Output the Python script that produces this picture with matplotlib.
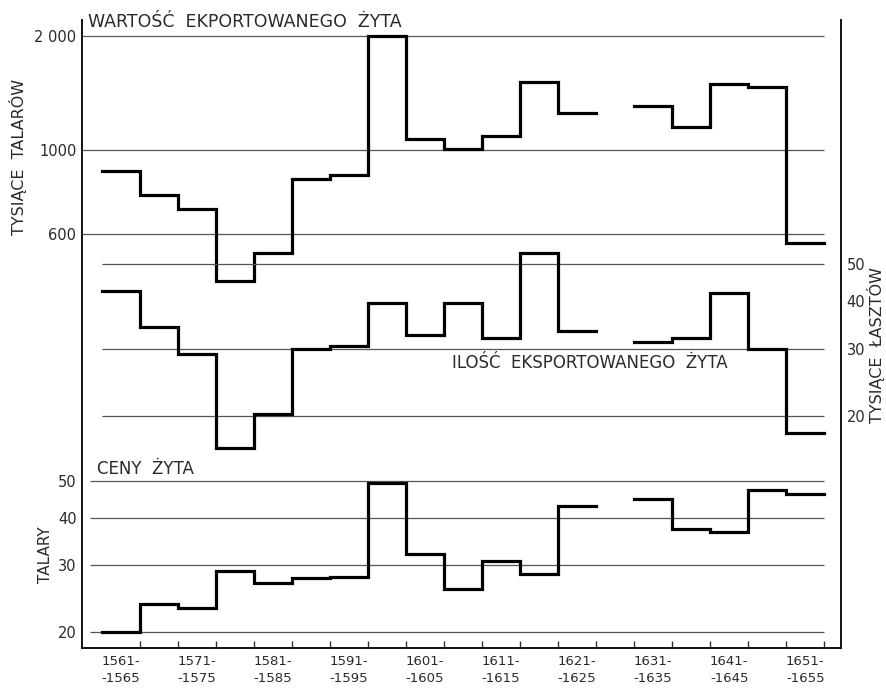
import numpy as np
import matplotlib
matplotlib.use('Agg')
from matplotlib import pyplot as plt
from matplotlib.ticker import NullLocator

# data: 5-year periods 1561-1655, no data for 1626-1630
start_years = list(range(1561, 1656, 5))
period_labels = ['%d-\n-%d' % (y, y + 4) for y in start_years]

value_k_thalers = [880, 759, 699, 451, 534, 839, 859, 2000, 1069, 1004,
                   1091, 1509, 1254, np.nan, 1309, 1150, 1493, 1464, 567]
volume_k_lasts = [42.4, 34.3, 29.1, 16.5, 20.3, 30.0, 30.5, 39.6, 32.6, 39.6,
                  32.0, 53.5, 33.4, np.nan, 31.2, 32.0, 41.9, 30.0, 18.0]
price_thalers = [20.0, 23.7, 23.1, 28.9, 26.9, 27.8, 28.0, 49.5, 32.1, 25.9,
                 30.7, 28.4, 43.0, np.nan, 44.9, 37.4, 36.6, 47.2, 46.1]

value_ticks = [600, 1000, 2000]
value_ticklabels = ['600', '1000', '2 000']
volume_ticks = [20, 30, 40, 50]
volume_grid = [20, 30, 50]
price_ticks = [20, 30, 40, 50]

# layout (pixels in a 886x690 figure)
W, H = 886, 690
FL, FR = 82, 841
XMIN, XMAX = 1558.4, 1658.2
TXT = '#2a2a2a'
GRID = '#555555'

fig = plt.figure(figsize=(W / 100, H / 100), dpi=100)
plt.rcParams['font.family'] = ['DejaVu Sans']


def px_axes(top, bottom):
    a = fig.add_axes([FL / W, (H - bottom) / H, (FR - FL) / W, (bottom - top) / H])
    a.set_facecolor('none')
    a.set_xlim(XMIN, XMAX)
    return a


# frame with bottom year axis
frame = px_axes(20, 648)
frame.set_ylim(0, 1)
frame.set_yticks([])
frame.spines['top'].set_visible(False)
for s in ['left', 'right', 'bottom']:
    frame.spines[s].set_linewidth(1.4)
    frame.spines[s].set_color('#111111')
edges = start_years + [start_years[-1] + 5]
frame.set_xticks(edges[1:])
frame.set_xticklabels([])
frame.tick_params(axis='x', which='major', direction='in', length=5, width=1, color='#333333')
centers = [y + 2.5 for y in start_years[::2]]
frame.set_xticks(centers, minor=True)
frame.set_xticklabels(period_labels[::2], minor=True, fontsize=9.5, color=TXT, linespacing=1.45)
frame.tick_params(axis='x', which='minor', length=0, pad=5)


def series_axes(top, bottom, lo, hi, values, ticks, labels, grid, grid_from, side):
    a = px_axes(top, bottom)
    a.set_yscale('log')
    a.set_ylim(lo, hi)
    for s in a.spines.values():
        s.set_visible(False)
    a.set_xticks([])
    a.yaxis.set_minor_locator(NullLocator())
    a.set_yticks(ticks)
    a.set_yticklabels(labels)
    a.tick_params(axis='y', length=0, pad=4, labelsize=10.5, labelcolor=TXT)
    if side == 'right':
        a.yaxis.tick_right()
    a.hlines(grid, grid_from, edges[-1], color=GRID, lw=0.9, zorder=1, clip_on=False)
    a.step(edges, list(values) + [values[-1]], where='post', color='black',
           lw=2.3, clip_on=False, zorder=3, solid_joinstyle='miter')
    return a


ax_val = series_axes(36, 234, 600, 2000, value_k_thalers, value_ticks,
                     value_ticklabels, value_ticks, XMIN, 'left')
ax_vol = series_axes(264, 416, 20, 50, volume_k_lasts, volume_ticks,
                     [str(t) for t in volume_ticks], volume_grid, edges[0], 'right')
ax_pr = series_axes(481, 632, 20, 50, price_thalers, price_ticks,
                    [str(t) for t in price_ticks], price_ticks, XMIN + 1, 'left')

# texts
def ftext(x, y, s, **kw):
    fig.text(x / W, 1 - y / H, s, color=TXT, **kw)


ftext(88, 22, 'WARTOŚĆ  EKPORTOWANEGO  ŻYTA', fontsize=12.5, va='center', ha='left')
ftext(452, 363, 'ILOŚĆ  EKSPORTOWANEGO  ŻYTA', fontsize=12, va='center', ha='left')
ftext(97, 469, 'CENY  ŻYTA', fontsize=12, va='center', ha='left')
ftext(18, 157, 'TYSIĄCE  TALARÓW', fontsize=11.5, rotation=90, va='center', ha='center')
ftext(45, 555, 'TALARY', fontsize=11, rotation=90, va='center', ha='center')
ftext(876, 345, 'TYSIĄCE  ŁASZTÓW', fontsize=11.5, rotation=90, va='center', ha='center')

fig.savefig('out.png', dpi=100)
